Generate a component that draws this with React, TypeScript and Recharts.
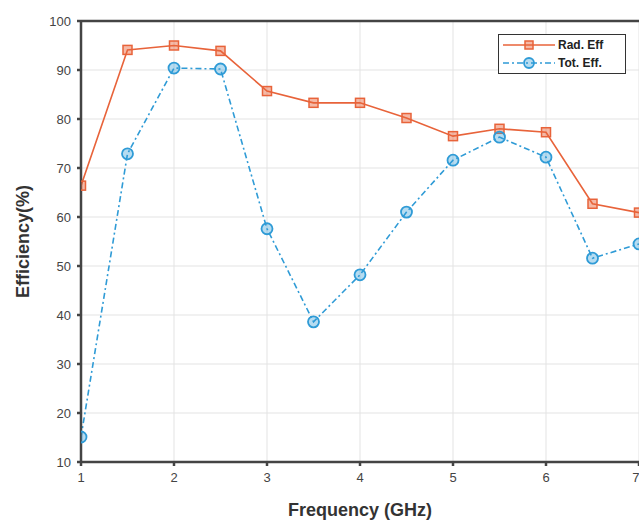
import React from 'react';
import { LineChart, Line, XAxis, YAxis, CartesianGrid, ReferenceLine } from 'recharts';

const frequencies = [1, 1.5, 2, 2.5, 3, 3.5, 4, 4.5, 5, 5.5, 6, 6.5, 7];
const radEff = [66.4, 94.1, 95.0, 93.9, 85.7, 83.3, 83.3, 80.2, 76.5, 78.0, 77.3, 62.7, 60.9];
const totEff = [15.1, 72.9, 90.4, 90.2, 57.6, 38.6, 48.2, 61.0, 71.6, 76.3, 72.2, 51.6, 54.5];
const xTicks = [1, 2, 3, 4, 5, 6, 7];
const yTicks = [10, 20, 30, 40, 50, 60, 70, 80, 90, 100];

const ORANGE = '#E8633A';
const BLUE = '#2F9BD6';

const data = frequencies.map((f, i) => ({ f, rad: radEff[i], tot: totEff[i] }));

const SquareDot = (props: any) => {
  const { cx, cy } = props;
  if (cx == null || cy == null) return null;
  return <rect x={cx - 4.5} y={cy - 4.5} width={9} height={9} fill={ORANGE} fillOpacity={0.45} stroke={ORANGE} strokeWidth={1.5} />;
};
const CircleDot = (props: any) => {
  const { cx, cy } = props;
  if (cx == null || cy == null) return null;
  return <circle cx={cx} cy={cy} r={5.5} fill={BLUE} fillOpacity={0.35} stroke={BLUE} strokeWidth={1.8} />;
};

const LegendBox = () => (
  <div style={{ position: 'absolute', left: 498, top: 34, width: 128, height: 40, border: '1.5px solid #333', background: '#fff', fontFamily: 'Liberation Sans, Arial, sans-serif', fontSize: 12, fontWeight: 'bold', color: '#222', boxSizing: 'border-box', padding: '1px 4px' }}>
    <div style={{ display: 'flex', alignItems: 'center', height: 18 }}>
      <svg width={52} height={12}>
        <line x1={0} y1={6} x2={52} y2={6} stroke={ORANGE} strokeWidth={1.5} />
        <rect x={22} y={2} width={8} height={8} fill={ORANGE} fillOpacity={0.45} stroke={ORANGE} strokeWidth={1.5} />
      </svg>
      <span style={{ marginLeft: 3 }}>Rad. Eff</span>
    </div>
    <div style={{ display: 'flex', alignItems: 'center', height: 18 }}>
      <svg width={52} height={12}>
        <line x1={0} y1={6} x2={52} y2={6} stroke={BLUE} strokeWidth={1.5} strokeDasharray="6 3 2 3" />
        <circle cx={26} cy={6} r={5} fill={BLUE} fillOpacity={0.35} stroke={BLUE} strokeWidth={1.8} />
      </svg>
      <span style={{ marginLeft: 3 }}>Tot. Eff.</span>
    </div>
  </div>
);

export default function App() {
  return (
    <div style={{ position: 'absolute', left: 0, top: 0, width: 639, height: 522, background: '#fff' }}>
      <LineChart width={639} height={522} data={data} margin={{ top: 21, right: 0, bottom: 30, left: 0 }}>
        <CartesianGrid stroke="#e3e3e3" strokeWidth={1} />
        <XAxis
          dataKey="f"
          type="number"
          domain={[1, 7]}
          ticks={xTicks}
          allowDataOverflow
          height={30}
          stroke="#444"
          strokeWidth={2.5}
          tickSize={4}
          tickMargin={7}
          tick={{ fill: '#444', fontSize: 13, fontFamily: 'Liberation Sans, Arial, sans-serif' }}
          label={{ value: 'Frequency (GHz)', position: 'insideBottom', offset: -24, style: { fill: '#333', fontSize: 18, fontWeight: 'bold', fontFamily: 'Liberation Sans, Arial, sans-serif' } }}
        />
        <YAxis
          type="number"
          domain={[10, 100]}
          ticks={yTicks}
          width={81}
          stroke="#444"
          strokeWidth={2.5}
          tickSize={4}
          tickMargin={6}
          tick={{ fill: '#444', fontSize: 13, fontFamily: 'Liberation Sans, Arial, sans-serif' }}
          label={{ value: 'Efficiency(%)', angle: -90, position: 'insideLeft', offset: 23, style: { textAnchor: 'middle', fill: '#333', fontSize: 18, fontWeight: 'bold', fontFamily: 'Liberation Sans, Arial, sans-serif' } }}
        />
        <ReferenceLine y={100} stroke="#444" strokeWidth={2.5} />
        <Line dataKey="rad" stroke={ORANGE} strokeWidth={1.6} dot={<SquareDot />} isAnimationActive={false} name="Rad. Eff" />
        <Line dataKey="tot" stroke={BLUE} strokeWidth={1.6} strokeDasharray="6 3 2 3" dot={<CircleDot />} isAnimationActive={false} name="Tot. Eff." />
      </LineChart>
      <LegendBox />
    </div>
  );
}
